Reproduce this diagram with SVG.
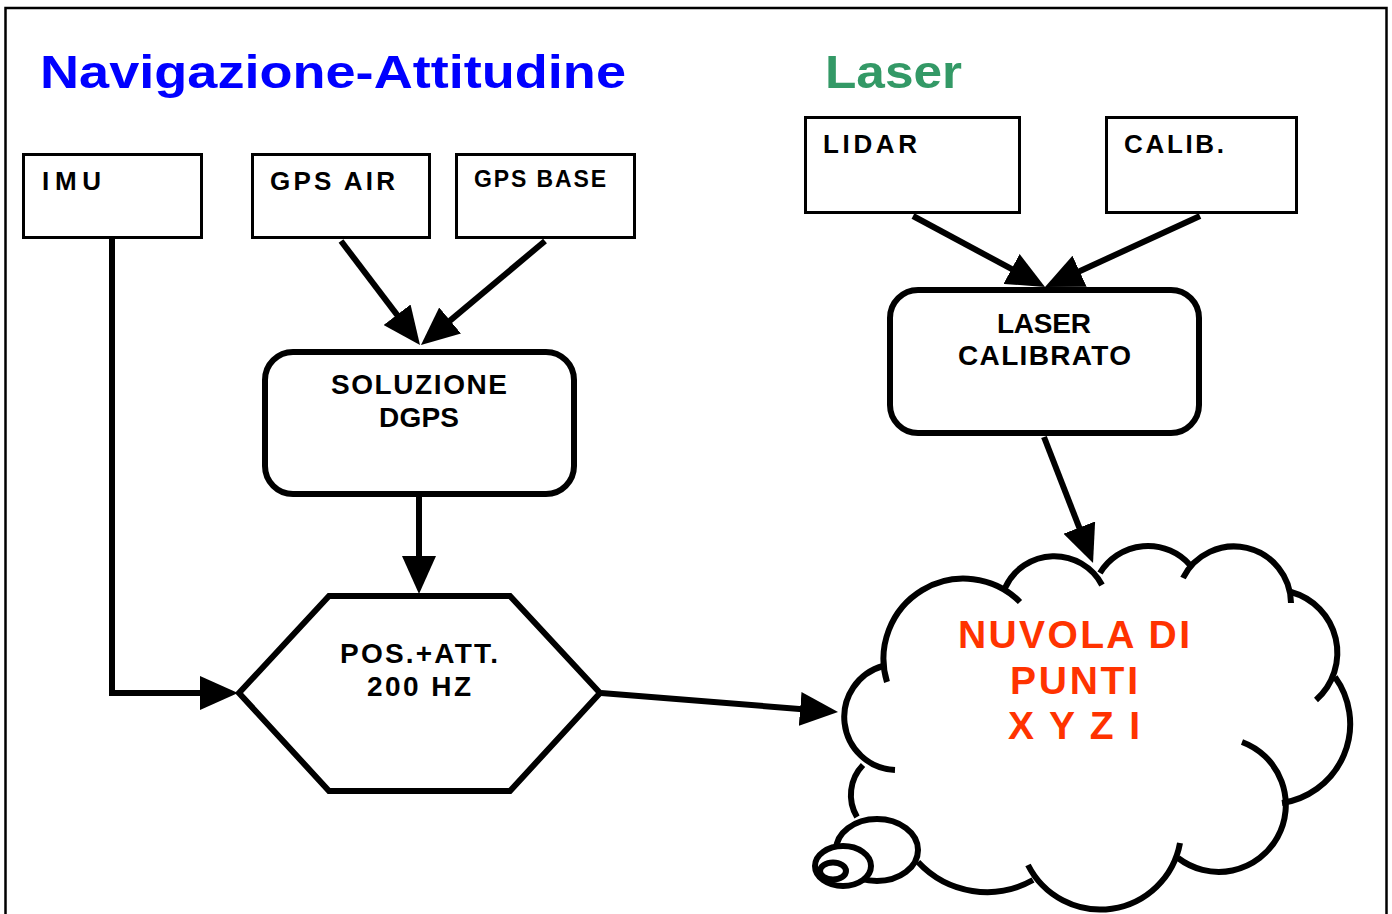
<svg xmlns="http://www.w3.org/2000/svg" width="1392" height="914" viewBox="0 0 1392 914">
  <style>
    .frame { fill: #ffffff; stroke: #000000; stroke-width: 2.5; }
    .box { fill: #ffffff; stroke: #000000; stroke-width: 3; }
    .proc { fill: #ffffff; stroke: #000000; stroke-width: 6; }
    .lbl { font-family: "Liberation Sans", Arial, sans-serif; font-weight: bold; fill: #000000; }
    .title { font-family: "Liberation Sans", Arial, sans-serif; font-weight: bold; font-size: 46px; }
    .cloud-txt { font-family: "Liberation Sans", Arial, sans-serif; font-weight: bold; font-size: 39px; fill: #ff3300; text-anchor: middle; }
    .link { fill: none; stroke: #000000; stroke-width: 6; }
    .bump { fill: none; stroke: #000000; stroke-width: 6; }
    .bubble { fill: #ffffff; stroke: #000000; stroke-width: 6; }
  </style>
  <defs>
    <marker id="head" markerUnits="userSpaceOnUse" markerWidth="38" markerHeight="34" refX="18" refY="17" orient="auto">
      <path d="M0,0 L38,17 L0,34 Z" fill="#000000"/>
    </marker>
  </defs>

  <!-- page frame -->
  <rect class="frame" x="5.5" y="8" width="1381" height="912"/>

  <!-- section titles -->
  <text class="title" x="40" y="88" fill="#0000ff" textLength="586" lengthAdjust="spacingAndGlyphs">Navigazione-Attitudine</text>
  <text class="title" x="825" y="88" fill="#339966" textLength="137" lengthAdjust="spacingAndGlyphs">Laser</text>

  <!-- input boxes -->
  <g id="imu">
    <rect class="box" x="23.5" y="154.5" width="178" height="83"/>
    <text class="lbl" x="42" y="190" font-size="26" textLength="59" lengthAdjust="spacing">IMU</text>
  </g>
  <g id="gps-air">
    <rect class="box" x="252.5" y="154.5" width="177" height="83"/>
    <text class="lbl" x="270" y="190" font-size="26" textLength="125" lengthAdjust="spacing">GPS AIR</text>
  </g>
  <g id="gps-base">
    <rect class="box" x="456.5" y="154.5" width="178" height="83"/>
    <text class="lbl" x="474" y="187" font-size="23" textLength="132" lengthAdjust="spacing">GPS BASE</text>
  </g>
  <g id="lidar">
    <rect class="box" x="805.5" y="117.5" width="214" height="95"/>
    <text class="lbl" x="823" y="153" font-size="26" textLength="94" lengthAdjust="spacing">LIDAR</text>
  </g>
  <g id="calib">
    <rect class="box" x="1106.5" y="117.5" width="190" height="95"/>
    <text class="lbl" x="1124" y="153" font-size="26" textLength="100" lengthAdjust="spacing">CALIB.</text>
  </g>

  <!-- processing steps -->
  <g id="soluzione-dgps">
    <rect class="proc" x="265" y="352" width="309" height="142" rx="28" ry="28"/>
    <text class="lbl" x="331" y="394" font-size="28" textLength="176" lengthAdjust="spacing">SOLUZIONE</text>
    <text class="lbl" x="379" y="427" font-size="28" textLength="80" lengthAdjust="spacing">DGPS</text>
  </g>
  <g id="laser-calibrato">
    <rect class="proc" x="890" y="290" width="309" height="143" rx="28" ry="28"/>
    <text class="lbl" x="997" y="333" font-size="28" textLength="94" lengthAdjust="spacing">LASER</text>
    <text class="lbl" x="958" y="365" font-size="28" textLength="173" lengthAdjust="spacing">CALIBRATO</text>
  </g>
  <g id="pos-att">
    <polygon class="proc" points="239,693 329,596 510,596 600,693 510,791 329,791"/>
    <text class="lbl" x="340" y="663" font-size="28" textLength="158" lengthAdjust="spacing">POS.+ATT.</text>
    <text class="lbl" x="367" y="696" font-size="28" textLength="104" lengthAdjust="spacing">200 HZ</text>
  </g>

  <!-- point cloud -->
  <g id="nuvola">
    <path class="bump" d="M887,682 A80,80 0 0 1 1020,602"/>
    <path class="bump" d="M1005,588 A54,54 0 0 1 1102,585"/>
    <path class="bump" d="M1100,573 A56,56 0 0 1 1190,565"/>
    <path class="bump" d="M1183,578 A57,57 0 0 1 1291,603"/>
    <path class="bump" d="M1291,592 A63,63 0 0 1 1316,700"/>
    <path class="bump" d="M1335,677 A80,80 0 0 1 1282,803"/>
    <path class="bump" d="M1242,742 A67,67 0 1 1 1178,858"/>
    <path class="bump" d="M1180,843 A81,81 0 0 1 1028,865"/>
    <path class="bump" d="M1033,880 A94,94 0 0 1 918,862"/>
    <path class="bump" d="M857,817 A43,43 0 0 1 863,765"/>
    <path class="bump" d="M895,770 A53,53 0 0 1 883,666"/>
    <ellipse class="bubble" cx="877" cy="850" rx="41" ry="31"/>
    <ellipse class="bubble" cx="843" cy="866" rx="28" ry="20"/>
    <ellipse class="bubble" cx="833" cy="871" rx="13" ry="8.5" stroke-width="5"/>
    <text class="cloud-txt" x="1074" y="648" textLength="232" lengthAdjust="spacing">NUVOLA DI</text>
    <text class="cloud-txt" x="1074" y="694" textLength="128" lengthAdjust="spacing">PUNTI</text>
    <text class="cloud-txt" x="1074" y="739" textLength="132" lengthAdjust="spacing">X Y Z I</text>
  </g>

  <!-- connectors -->
  <g id="connectors">
    <path class="link" d="M112,239 V693 H218" marker-end="url(#head)"/>
    <line class="link" x1="341" y1="241" x2="407.9" y2="329.1" marker-end="url(#head)"/>
    <line class="link" x1="545" y1="241" x2="436.3" y2="332.1" marker-end="url(#head)"/>
    <line class="link" x1="419" y1="497" x2="419" y2="574" marker-end="url(#head)"/>
    <line class="link" x1="913" y1="216" x2="1027.4" y2="277.5" marker-end="url(#head)"/>
    <line class="link" x1="1200" y1="216" x2="1063.2" y2="278.7" marker-end="url(#head)"/>
    <line class="link" x1="1044" y1="437" x2="1085.8" y2="544.4" marker-end="url(#head)"/>
    <line class="link" x1="601" y1="693" x2="818.1" y2="710.4" marker-end="url(#head)"/>
  </g>
</svg>
